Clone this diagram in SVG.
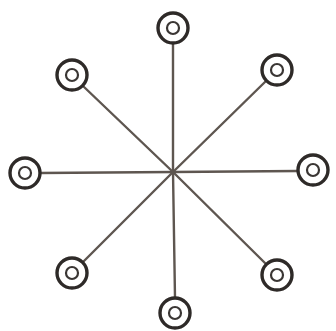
<svg xmlns="http://www.w3.org/2000/svg" width="336" height="331" viewBox="0 0 336 331">
<style>
.edge{stroke:#5e5650;stroke-width:2.4;fill:none;stroke-linecap:round}
.outer{fill:#fff;stroke:#2e2a28;stroke-width:3.4}
.inner{fill:#fff;stroke:#3a3634;stroke-width:2.2}
</style>
<defs>
<g id="ring"><circle class="outer" r="15"/><circle class="inner" r="6"/></g>
</defs>
<rect width="336" height="331" fill="#fff"/>
<g id="connectors">
<line class="edge" x1="173" y1="172" x2="173" y2="43"/>
<line class="edge" x1="173" y1="172" x2="266" y2="81"/>
<line class="edge" x1="173" y1="172" x2="298" y2="171"/>
<line class="edge" x1="173" y1="172" x2="266" y2="264"/>
<line class="edge" x1="173" y1="172" x2="175" y2="298"/>
<line class="edge" x1="173" y1="172" x2="83" y2="262"/>
<line class="edge" x1="173" y1="172" x2="40" y2="173"/>
<line class="edge" x1="173" y1="172" x2="83" y2="86"/>
</g>
<g id="n1"><use href="#ring" x="173" y="28"/></g>
<g id="n2"><use href="#ring" x="277" y="70"/></g>
<g id="n3"><use href="#ring" x="313" y="170"/></g>
<g id="n4"><use href="#ring" x="277" y="275"/></g>
<g id="n5"><use href="#ring" x="175" y="313"/></g>
<g id="n6"><use href="#ring" x="72" y="273"/></g>
<g id="n7"><use href="#ring" x="25" y="173"/></g>
<g id="n8"><use href="#ring" x="72" y="75"/></g>
</svg>
